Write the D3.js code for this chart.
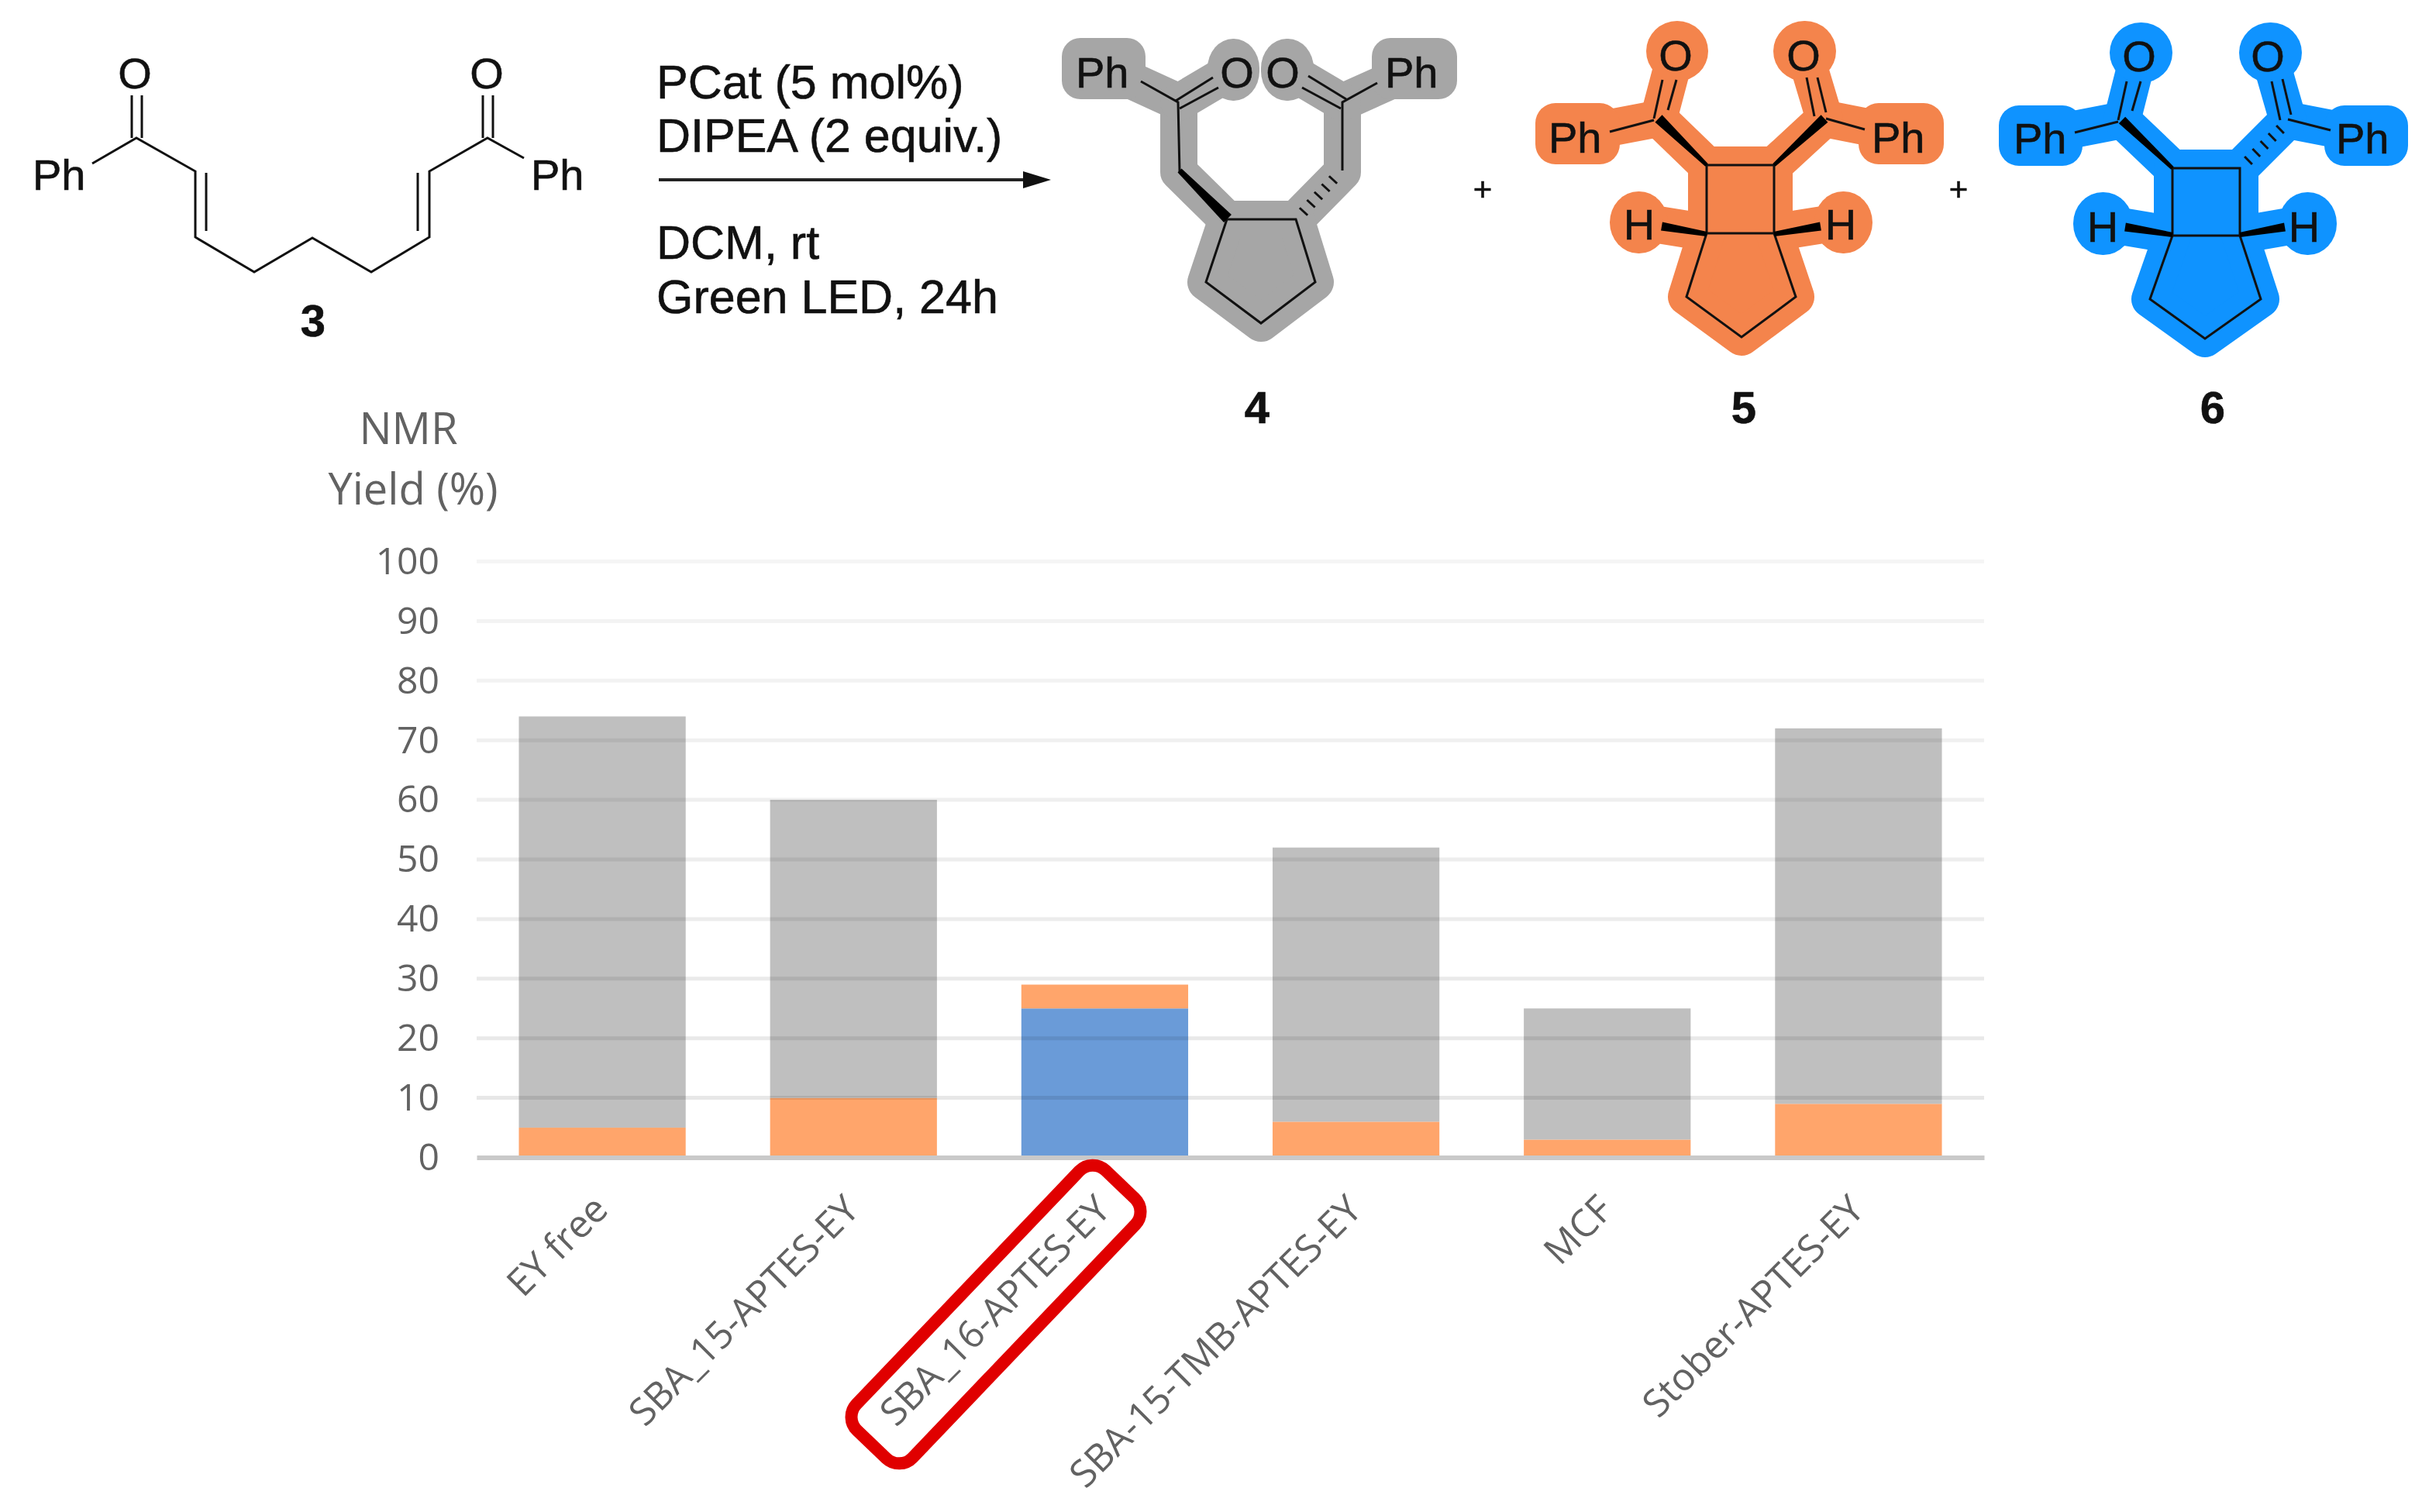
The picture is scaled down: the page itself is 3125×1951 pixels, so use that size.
<!DOCTYPE html>
<html>
<head>
<meta charset="utf-8">
<script src="https://cdn.jsdelivr.net/npm/d3@7"></script>
<style>
    html, body { margin: 0; background: #fff; }
    svg { filter: blur(0.7px); }
    .chem { font-family: "Liberation Sans", sans-serif; fill: #111; stroke: #111; stroke-width: 0.6px; }
    .chart-text { font-family: "Open Sans", sans-serif; fill: #626262; }
</style>
</head>
<body>
<svg id="figure" width="3125" height="1951"></svg>
<script>
const categories = ["EY free", "SBA_15-APTES-EY", "SBA_16-APTES-EY", "SBA-15-TMB-APTES-EY", "MCF", "Stober-APTES-EY"];
const blueValues = [0, 0, 25, 0, 0, 0];
const orangeValues = [5, 10, 4, 6, 3, 9];
const greyValues = [69, 50, 0, 46, 22, 63];
const yTicks = [0, 10, 20, 30, 40, 50, 60, 70, 80, 90, 100];
const seriesNames = ["blue", "orange", "grey"];
const seriesColors = {blue: "#6a9bd8", orange: "#ffa56b", grey: "#bfbfbf"};

const svg = d3.select("#figure");

// ---- chart ----
const x = d3.scaleBand().domain(categories).range([615, 2560]).paddingInner(0.336).paddingOuter(0.168);
const y = d3.scaleLinear().domain([0, 100]).range([1493.5, 724.5]);

const rows = categories.map((c, i) => ({category: c, blue: blueValues[i], orange: orangeValues[i], grey: greyValues[i]}));
const stacked = d3.stack().keys(seriesNames)(rows);

const barLayer = svg.append("g");
barLayer.selectAll("g")
    .data(stacked)
    .join("g")
    .attr("fill", d => seriesColors[d.key])
    .selectAll("rect")
    .data(d => d)
    .join("rect")
    .attr("x", d => x(d.data.category))
    .attr("y", d => y(d[1]))
    .attr("width", x.bandwidth())
    .attr("height", d => y(d[0]) - y(d[1]));

// Gridlines sit over the bars, they show faintly through them in the original
svg.append("g").selectAll("line")
    .data(yTicks.filter(t => t > 0))
    .join("line")
    .attr("x1", 615)
    .attr("x2", 2560)
    .attr("y1", d => y(d))
    .attr("y2", d => y(d))
    .attr("stroke", "#000")
    .attr("stroke-opacity", d => 0.1 - 0.06 * d / 100)
    .attr("stroke-width", 5);

const yAxis = svg.append("g")
    .attr("transform", "translate(615,0)")
    .call(d3.axisLeft(y).tickValues(yTicks).tickSize(0).tickPadding(48));
yAxis.select(".domain").remove();
yAxis.selectAll("text").attr("class", "chart-text").style("font-size", "48px").attr("dy", "0.33em");

const xAxis = svg.append("g")
    .attr("transform", "translate(0,1493.5)")
    .call(d3.axisBottom(x).tickSize(0));
xAxis.select(".domain").attr("stroke", "#c9c9c9").attr("stroke-width", 6);
xAxis.selectAll("text")
    .attr("class", "chart-text")
    .style("font-size", "49px")
    .style("text-anchor", "end")
    .attr("x", 0)
    .attr("y", 0)
    .attr("dy", 0)
    .attr("transform", "translate(10,70) rotate(-45)");

const axisTitle = svg.append("g").attr("class", "chart-text").style("font-size", "56px").attr("text-anchor", "middle");
axisTitle.append("text").attr("x", 527).attr("y", 573).text("NMR");
axisTitle.append("text").attr("x", 533).attr("y", 651).text("Yield (%)");

// Red box round the SBA_16 label
svg.append("rect")
    .attr("x", -232)
    .attr("y", -50)
    .attr("width", 464)
    .attr("height", 100)
    .attr("rx", 24)
    .attr("transform", "translate(1285,1696) rotate(-46.3)")
    .attr("fill", "none")
    .attr("stroke", "#e00000")
    .attr("stroke-width", 16);

// ---- reaction scheme ----
const line = d3.line();

// Solid stereo bond: tapered from width w0 at a to width w1 at b
function wedgePoints(a, b, w0, w1)
{
    const dx = b[0] - a[0], dy = b[1] - a[1];
    const len = Math.hypot(dx, dy);
    const ux = -dy / len / 2, uy = dx / len / 2;
    return [
        [a[0] + ux * w0, a[1] + uy * w0],
        [b[0] + ux * w1, b[1] + uy * w1],
        [b[0] - ux * w1, b[1] - uy * w1],
        [a[0] - ux * w0, a[1] - uy * w0]
    ];
}

function drawMolecule(mol)
{
    const g = svg.append("g");

    // Coloured halo behind the skeleton
    if (mol.color)
    {
        g.append("g").selectAll("path")
            .data(mol.halo)
            .join("path")
            .attr("d", line)
            .attr("fill", "none")
            .attr("stroke", mol.color)
            .attr("stroke-width", 48)
            .attr("stroke-linejoin", "round")
            .attr("stroke-linecap", "round");

        g.append("path")
            .attr("d", line(mol.ring) + "Z")
            .attr("fill", mol.color)
            .attr("stroke", mol.color)
            .attr("stroke-width", 48)
            .attr("stroke-linejoin", "round");

        g.append("g").selectAll("rect")
            .data(mol.boxes)
            .join("rect")
            .attr("x", d => d[0])
            .attr("y", d => d[1])
            .attr("width", d => d[2] - d[0])
            .attr("height", d => d[3] - d[1])
            .attr("rx", d => d[4])
            .attr("ry", d => d[5])
            .attr("fill", mol.color);
    }

    g.append("g").selectAll("path")
        .data(mol.bonds)
        .join("path")
        .attr("d", line)
        .attr("fill", "none")
        .attr("stroke", "#111")
        .attr("stroke-width", 3);

    g.append("g").selectAll("polygon")
        .data(mol.wedges || [])
        .join("polygon")
        .attr("points", d => wedgePoints(d[0], d[1], d[2], d[3]).join(" "))
        .attr("fill", "#000");

    // Hashed bonds: five short strokes across the bond
    (mol.hashes || []).forEach(h => {
        const dx = h[1][0] - h[0][0], dy = h[1][1] - h[0][1], len = Math.hypot(dx, dy);
        d3.range(5).forEach(i => {
            const t = i / 4;
            const c = [h[0][0] + dx * t, h[0][1] + dy * t];
            g.append("line")
                .attr("x1", c[0] - dy / len * 7).attr("y1", c[1] + dx / len * 7)
                .attr("x2", c[0] + dy / len * 7).attr("y2", c[1] - dx / len * 7)
                .attr("stroke", "#111").attr("stroke-width", 3);
        });
    });

    g.append("g").selectAll("text")
        .data(mol.labels)
        .join("text")
        .attr("class", "chem")
        .attr("x", d => d[1])
        .attr("y", d => d[2])
        .attr("text-anchor", d => d[3] || "start")
        .style("font-size", "56px")
        .text(d => d[0]);
}

const mol3 = {
    bonds: [
        [[119, 211], [176, 178], [252, 221], [252, 306], [328, 351], [403, 307], [479, 351], [554, 306], [554, 221], [629, 178], [676, 204]],
        [[170, 123], [170, 178]], [[183, 123], [183, 178]],
        [[623, 123], [623, 178]], [[636, 123], [636, 178]],
        [[266, 223], [266, 298]], [[539, 223], [539, 298]]
    ],
    labels: [["Ph", 42, 245], ["Ph", 685, 245], ["O", 174, 114, "middle"], ["O", 628, 114, "middle"]]
};

const mol4 = {
    color: "#a6a6a6",
    halo: [
        [[1425, 88], [1521, 132], [1521, 222], [1583, 283]],
        [[1521, 132], [1592, 90]],
        [[1830, 88], [1732, 132], [1732, 222], [1672, 283]],
        [[1732, 132], [1661, 90]]
    ],
    ring: [[1583, 283], [1672, 283], [1697, 364], [1627, 417], [1556, 364]],
    boxes: [[1370, 49, 1478, 128, 24, 24], [1770, 49, 1880, 128, 24, 24], [1558, 50, 1625, 130, 33, 38], [1627, 50, 1695, 130, 33, 38]],
    bonds: [
        [[1472, 105], [1520, 132], [1522, 222]],
        [[1517, 130], [1565, 100]], [[1522, 140], [1572, 113]],
        [[1777, 107], [1732, 132], [1732, 220]],
        [[1688, 98], [1737, 128]], [[1680, 113], [1730, 140]],
        [[1583, 283], [1672, 283], [1697, 364], [1627, 417], [1556, 364], [1583, 283]]
    ],
    wedges: [[[1522, 220], [1584, 282], 7, 14]],
    hashes: [[[1682, 273], [1720, 232]]],
    labels: [["Ph", 1388, 113], ["Ph", 1787, 113], ["O", 1596, 113, "middle"], ["O", 1655, 113, "middle"]]
};

const mol5 = {
    color: "#f4844c",
    halo: [
        [[2040, 172], [2140, 153], [2202, 213]],
        [[2140, 153], [2163, 66]],
        [[2450, 172], [2354, 153], [2289, 213]],
        [[2354, 153], [2328, 66]],
        [[2202, 300], [2115, 286]],
        [[2289, 300], [2377, 286]]
    ],
    ring: [[2202, 213], [2289, 213], [2289, 300], [2317, 383], [2247, 435], [2176, 383], [2202, 300]],
    boxes: [[1981, 133, 2090, 212, 26, 26], [2398, 133, 2508, 212, 26, 26], [2124, 27, 2204, 105, 40, 39], [2288, 27, 2369, 105, 40, 39], [2077, 247, 2152, 327, 37, 40], [2341, 247, 2416, 327, 37, 40]],
    bonds: [
        [[2077, 170], [2134, 155]],
        [[2145, 103], [2134, 153]], [[2163, 103], [2152, 142]],
        [[2406, 167], [2356, 153]],
        [[2331, 100], [2341, 150]], [[2345, 100], [2356, 145]],
        [[2202, 213], [2289, 213], [2289, 301], [2202, 301], [2202, 213]],
        [[2202, 301], [2176, 383], [2247, 435], [2317, 383], [2289, 301]]
    ],
    wedges: [[[2202, 213], [2140, 153], 5, 13], [[2289, 213], [2354, 153], 5, 13], [[2202, 302], [2144, 292], 6, 11], [[2289, 302], [2349, 292], 6, 11]],
    labels: [["Ph", 1998, 197], ["Ph", 2415, 197], ["O", 2162, 91, "middle"], ["O", 2327, 91, "middle"], ["H", 2115, 309, "middle"], ["H", 2375, 309, "middle"]]
};

const mol6 = {
    color: "#0f93ff",
    halo: [
        [[2640, 174], [2738, 155], [2803, 217]],
        [[2738, 155], [2760, 68]],
        [[3050, 174], [2952, 155], [2890, 217]],
        [[2952, 155], [2927, 68]],
        [[2803, 303], [2713, 288]],
        [[2890, 303], [2977, 288]]
    ],
    ring: [[2803, 217], [2890, 217], [2890, 303], [2917, 386], [2845, 437], [2774, 386], [2803, 303]],
    boxes: [[2579, 136, 2687, 214, 26, 26], [2999, 136, 3107, 214, 26, 26], [2722, 29, 2803, 107, 40, 39], [2889, 29, 2970, 107, 40, 39], [2675, 248, 2752, 329, 38, 40], [2940, 248, 3015, 329, 37, 40]],
    bonds: [
        [[2677, 171], [2733, 157]],
        [[2744, 105], [2733, 155]], [[2762, 105], [2751, 143]],
        [[3007, 168], [2952, 154]],
        [[2931, 105], [2942, 155]], [[2945, 102], [2956, 148]],
        [[2803, 217], [2890, 217], [2890, 304], [2803, 304], [2803, 217]],
        [[2803, 304], [2774, 386], [2845, 437], [2917, 386], [2890, 304]]
    ],
    wedges: [[[2803, 217], [2738, 155], 5, 12], [[2803, 303], [2742, 293], 6, 11], [[2890, 303], [2948, 293], 6, 11]],
    hashes: [[[2901, 207], [2942, 167]]],
    labels: [["Ph", 2598, 198], ["Ph", 3014, 198], ["O", 2760, 92, "middle"], ["O", 2926, 92, "middle"], ["H", 2713, 312, "middle"], ["H", 2973, 312, "middle"]]
};

[mol3, mol4, mol5, mol6].forEach(drawMolecule);

const compoundLabels = [["3", 404, 434], ["4", 1622, 546], ["5", 2250, 546], ["6", 2855, 546]];
svg.append("g").selectAll("text")
    .data(compoundLabels)
    .join("text")
    .attr("class", "chem")
    .attr("x", d => d[1])
    .attr("y", d => d[2])
    .attr("text-anchor", "middle")
    .style("font-size", "58px")
    .style("font-weight", "bold")
    .text(d => d[0]);

const conditions = [["PCat (5 mol%)", 127], ["DIPEA (2 equiv.)", 196], ["DCM, rt", 334], ["Green LED, 24h", 404]];
svg.append("g").selectAll("text")
    .data(conditions)
    .join("text")
    .attr("class", "chem")
    .attr("x", 847)
    .attr("y", d => d[1])
    .style("font-size", "61px")
    .text(d => d[0]);

svg.append("line").attr("x1", 850).attr("x2", 1325).attr("y1", 232).attr("y2", 232).attr("stroke", "#222").attr("stroke-width", 4);
svg.append("polygon").attr("points", "1320,221 1356,232 1320,243").attr("fill", "#111");

const plusSigns = [1913, 2527];
svg.append("g").selectAll("text")
    .data(plusSigns)
    .join("text")
    .attr("class", "chem")
    .attr("x", d => d)
    .attr("y", 259)
    .attr("text-anchor", "middle")
    .style("font-size", "42px")
    .text("+");
</script>
</body>
</html>
